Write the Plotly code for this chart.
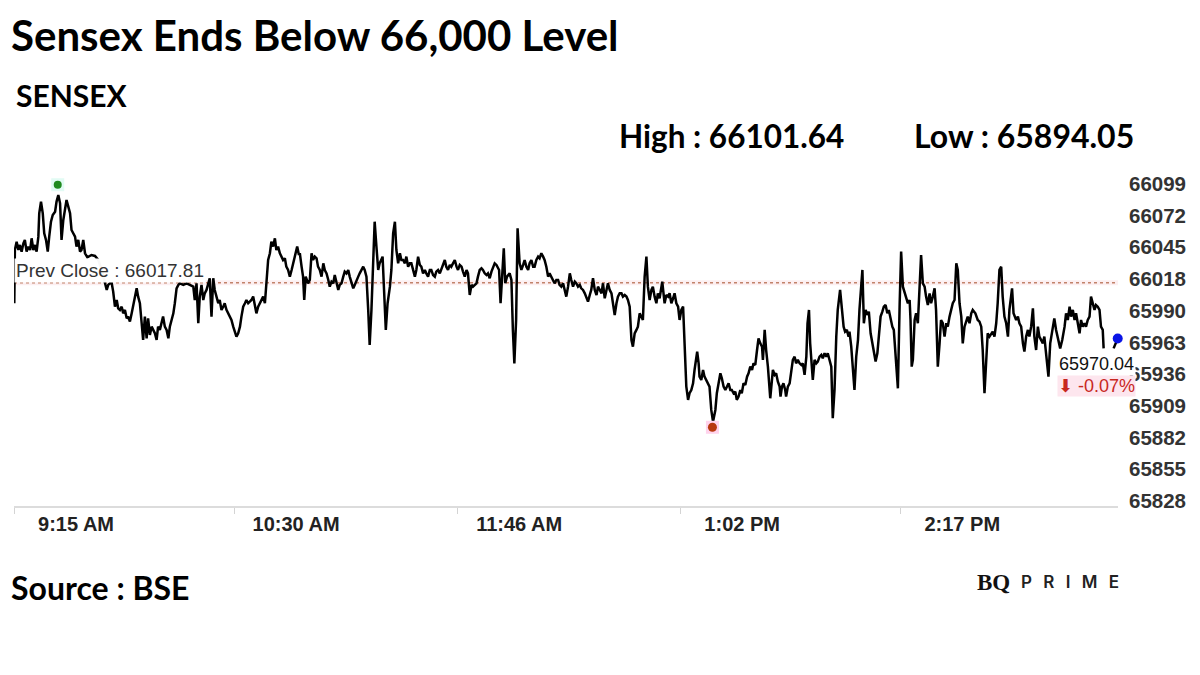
import plotly.graph_objects as go

# ---------------- data ----------------
TITLE = "Sensex Ends Below 66,000 Level"
INDEX_NAME = "SENSEX"
SOURCE = "Source : BSE"
PREV_CLOSE = 66017.81
DAY_HIGH = 66101.64
DAY_LOW = 65894.05
CLOSE = 65970.04
HIGH_T = 14.9      # minutes after 9:15 of the day's high
LOW_T = 238.0      # minutes after 9:15 of the day's low

x_tick_minutes = [0, 75, 151, 227, 302]
x_tick_labels = ["9:15 AM", "10:30 AM", "11:46 AM", "1:02 PM", "2:17 PM"]
y_tick_values = [65828, 65855, 65882, 65909, 65936, 65963, 65990, 66018, 66045, 66072, 66099]
y_tick_labels = [str(v) for v in y_tick_values]

# minutes after 9:15 and Sensex level
t1 = [0.1, 0.3, 0.9, 1.5, 2.0, 2.6, 3.2, 3.7, 4.3, 4.9,
      5.5, 6.0, 6.6, 7.2, 7.7, 8.3, 8.6, 9.2, 9.8, 10.3,
      10.9, 11.5, 12.0, 12.6, 13.2, 14.0, 14.5, 15.1, 15.7, 16.2,
      16.8, 17.4, 17.9, 18.5, 19.1, 19.6, 20.2, 20.8, 21.3, 21.9,
      22.5, 23.0, 23.6, 24.2, 25.0, 26.4, 27.6, 28.7, 29.9, 31.0]
v1 = [66000.2, 66045.8, 66052.9, 66045.8, 66050.1, 66044.4, 66051.5, 66054.4, 66044.4, 66048.7,
      66045.8, 66055.8, 66045.8, 66050.1, 66044.4, 66057.2, 66077.2, 66087.2, 66077.2, 66060.1,
      66054.4, 66044.4, 66057.2, 66070.0, 66075.7, 66078.6, 66087.2, 66092.9, 66085.7, 66054.4,
      66071.5, 66080.0, 66088.6, 66082.9, 66077.2, 66062.9, 66060.1, 66057.2, 66048.7, 66054.4,
      66044.4, 66045.8, 66054.4, 66043.0, 66039.5, 66041.5, 66040.7, 66037.3, 66028.7, 66017.3]

t2 = [31.6, 32.1, 32.7, 33.3, 33.8, 34.4, 35.0, 35.5, 36.1, 36.7,
      37.2, 37.8, 38.4, 38.9, 39.5, 40.1, 40.6, 41.2, 41.8, 42.3,
      42.9, 43.5, 44.0, 44.6, 45.2, 45.7, 46.3, 46.9, 47.4, 48.0,
      48.6, 49.1, 49.7, 50.3, 50.8, 51.4, 52.0, 52.6, 53.1, 53.7,
      54.3, 54.8, 55.4, 56.0, 56.5, 57.7, 58.8, 59.9, 61.1, 61.6]
v2 = [66011.6, 66015.9, 66017.3, 66017.3, 66010.2, 65997.3, 66003.0, 65995.9, 65994.5, 65997.3,
      65991.6, 65994.5, 65987.3, 65988.8, 65984.5, 65991.6, 65997.3, 66005.9, 66013.0, 66005.9,
      66000.2, 65983.1, 65968.8, 65988.8, 65970.2, 65987.3, 65973.1, 65980.2, 65977.4, 65974.5,
      65968.8, 65980.2, 65977.4, 65983.1, 65988.8, 65980.2, 65977.4, 65970.2, 65980.2, 65985.9,
      65991.6, 66000.2, 66013.0, 66015.9, 66017.3, 66015.9, 66017.3, 66015.9, 66014.4, 66003.0]

t3 = [62.2, 62.8, 63.3, 63.9, 64.5, 65.0, 65.6, 66.7, 67.3, 67.9,
      68.4, 69.0, 69.6, 70.1, 70.7, 71.3, 71.8, 72.4, 73.0, 73.5,
      74.1, 74.7, 75.3, 75.8, 76.4, 77.0, 77.5, 78.1, 78.7, 79.2,
      79.8, 80.4, 80.9, 81.5, 82.1, 82.6, 83.2, 83.8, 84.3, 84.9,
      85.5, 86.0, 86.6, 87.2, 87.7, 88.3, 88.9, 89.4, 90.0, 90.6,
      91.1, 91.7, 92.3, 92.8, 93.4]
v3 = [66017.3, 65983.1, 66005.9, 66015.9, 66003.0, 66008.7, 66011.6, 66021.6, 65988.8, 66021.6,
      66011.6, 66005.9, 66000.2, 66003.0, 65994.5, 65997.3, 66000.2, 65994.5, 65991.6, 65988.8,
      65985.9, 65980.2, 65974.5, 65971.7, 65974.5, 65980.2, 65988.8, 65997.3, 66000.2, 66003.0,
      66000.2, 66001.6, 66003.0, 66005.9, 65997.3, 65991.6, 65997.3, 66000.2, 66003.0, 66005.9,
      66000.2, 66020.1, 66037.2, 66043.0, 66052.9, 66048.7, 66055.8, 66045.8, 66048.7, 66043.0,
      66040.1, 66037.2, 66038.7, 66031.5, 66028.7]

t4 = [94.0, 94.6, 95.1, 95.7, 96.5, 97.1, 97.4, 98.0, 98.5, 98.9,
      99.4, 100.2, 100.8, 101.4, 101.9, 102.5, 103.1, 103.6, 104.2, 104.8,
      105.4, 105.9, 106.5, 107.1, 107.6, 108.2, 108.8, 109.3, 109.9, 110.5,
      111.0, 111.6, 112.2, 112.7, 113.3, 113.9, 114.4, 115.0, 115.6, 116.1,
      116.7, 117.3, 117.8, 118.4, 119.0, 119.5, 120.1, 120.7, 121.2, 121.8,
      122.4, 122.9, 123.5, 124.1, 124.6, 125.6, 126.1, 126.7, 127.3, 128.1,
      128.6, 129.2, 129.8, 130.3, 130.9]
v4 = [66023.0, 66028.7, 66034.4, 66038.7, 66048.7, 66041.5, 66043.0, 66031.5, 66023.0, 66003.0,
      66023.0, 66017.3, 66020.1, 66043.0, 66037.2, 66040.1, 66038.7, 66031.5, 66028.7, 66023.0,
      66034.4, 66028.7, 66025.8, 66020.1, 66014.4, 66018.7, 66017.3, 66024.4, 66017.3, 66011.6,
      66015.9, 66017.3, 66023.0, 66027.3, 66025.8, 66028.7, 66023.0, 66018.7, 66013.0, 66015.9,
      66020.1, 66023.0, 66025.8, 66028.7, 66031.5, 66028.7, 66023.0, 65994.5, 65964.5, 65994.5,
      66043.0, 66070.0, 66048.7, 66028.7, 66034.4, 66040.1, 66011.6, 65977.4, 66000.2, 66014.4,
      66028.7, 66060.1, 66070.0, 66045.8, 66034.4]

t5 = [131.5, 132.0, 132.6, 133.2, 133.7, 134.3, 134.9, 135.4, 136.0, 136.6,
      137.1, 137.7, 138.3, 138.8, 139.4, 140.0, 140.5, 141.1, 141.7, 142.2,
      142.8, 143.4, 143.9, 144.5, 145.1, 145.6, 146.2, 146.8, 147.3, 147.9,
      148.5, 149.0, 149.6, 150.2, 150.8, 151.3, 151.9, 152.5, 153.0, 153.6,
      154.2, 154.7, 155.3, 155.9, 156.4, 157.0, 157.6, 158.1, 158.7, 159.3,
      159.8, 160.4, 161.0, 161.5, 162.1, 162.7, 163.2, 163.8, 164.4, 165.3]
v5 = [66043.0, 66037.2, 66037.2, 66034.4, 66040.1, 66031.5, 66034.4, 66034.4, 66028.7, 66023.0,
      66028.7, 66040.1, 66033.0, 66031.5, 66025.8, 66028.7, 66025.8, 66023.0, 66028.7, 66028.7,
      66024.4, 66023.0, 66027.3, 66028.7, 66025.8, 66028.7, 66033.0, 66037.2, 66031.5, 66028.7,
      66033.0, 66031.5, 66034.4, 66037.2, 66031.5, 66028.7, 66033.0, 66031.5, 66027.3, 66023.0,
      66028.7, 66025.8, 66007.3, 66015.9, 66014.4, 66015.9, 66017.3, 66023.0, 66028.7, 66030.1,
      66028.7, 66025.8, 66024.4, 66025.8, 66021.6, 66027.3, 66031.5, 66034.4, 66033.0, 66028.7]

t6 = [165.8, 166.4, 166.9, 167.4, 168.0, 168.9, 169.5, 170.0, 170.5, 171.1,
      171.6, 172.3, 172.9, 173.5, 174.0, 174.6, 175.2, 175.7, 176.3, 176.9,
      177.4, 178.0, 178.6, 179.1, 179.7, 180.3, 180.8, 181.4, 182.0, 182.5,
      183.1, 183.7, 184.2, 184.8, 185.4, 185.9, 186.5, 187.1, 187.6, 188.2,
      188.8]
v6 = [66000.2, 66028.7, 66047.2, 66017.3, 66023.0, 66025.8, 66020.1, 65977.4, 65948.8, 65985.9,
      66064.3, 66034.4, 66028.7, 66033.0, 66037.2, 66031.5, 66028.7, 66034.4, 66037.2, 66031.5,
      66031.5, 66037.2, 66040.1, 66038.7, 66043.0, 66040.1, 66037.2, 66031.5, 66023.0, 66025.8,
      66023.0, 66020.1, 66017.3, 66020.1, 66020.1, 66015.9, 66014.4, 66017.3, 66011.6, 66005.9,
      66014.4]

t7 = [189.4, 189.9, 190.5, 191.1, 191.6, 192.2, 192.8, 193.3, 193.9, 194.5,
      195.0, 195.6, 196.2, 196.7, 197.3, 197.9, 198.5, 199.0, 199.6, 200.2,
      200.7, 201.3, 201.9, 202.4, 203.0, 203.6, 204.1, 204.7, 205.3, 205.8,
      206.4, 207.0, 207.5, 208.1, 208.7, 209.2, 209.8, 210.4, 210.9, 211.5,
      212.1, 212.6, 213.2, 213.8, 214.3, 214.9, 215.5, 216.0, 216.6, 217.2,
      217.7, 218.3, 218.9, 219.4, 220.0, 220.9, 221.7, 222.3, 222.9, 223.4,
      224.0, 224.6, 225.1, 225.7, 226.3, 226.8, 227.4, 228.0]
v7 = [66025.8, 66020.1, 66014.4, 66018.7, 66017.3, 66014.4, 66015.9, 66013.0, 66011.6, 66008.7,
      66005.9, 66001.6, 66007.3, 66011.6, 66021.6, 66011.6, 66007.3, 66014.4, 66011.6, 66008.7,
      66017.3, 66004.5, 66011.6, 66017.3, 66011.6, 66008.7, 66000.2, 65990.2, 66000.2, 66005.9,
      66008.7, 66008.7, 66005.9, 66007.3, 66005.9, 66003.0, 65997.3, 65968.8, 65963.1, 65974.5,
      65977.4, 65980.2, 65991.6, 65988.8, 65985.9, 66023.0, 66040.1, 66014.4, 66003.0, 66011.6,
      66014.4, 66005.9, 66000.2, 66008.7, 66004.5, 66018.7, 66000.2, 66007.3, 66005.9, 66008.7,
      66000.2, 66004.5, 66008.7, 66000.2, 65997.3, 65985.9, 65994.5, 65997.3]

t8 = [228.5, 229.1, 229.7, 230.2, 230.8, 231.4, 231.9, 232.5, 232.8, 233.3,
      233.6, 234.2, 234.8, 235.3, 235.9, 236.5, 237.0, 237.6, 238.2, 239.0,
      239.5, 240.1, 240.7, 241.2, 241.8, 242.4, 242.9, 243.5, 244.1, 244.6,
      245.2, 245.8, 246.3, 246.9, 247.5, 248.0, 248.6, 249.2, 249.8, 250.3,
      250.9, 251.5, 252.0, 252.6, 253.2, 253.7, 254.3, 254.9, 255.2, 255.8,
      256.3, 256.9, 257.7, 258.2, 258.6, 259.2, 259.7, 260.3, 260.9, 261.2,
      261.7, 262.2, 262.8, 263.1, 263.7, 264.3]
v8 = [65957.4, 65928.9, 65917.5, 65923.2, 65926.0, 65931.7, 65943.1, 65954.5, 65958.8, 65948.8,
      65937.4, 65934.6, 65943.1, 65937.4, 65934.6, 65931.7, 65928.9, 65908.9, 65898.9, 65908.9,
      65923.2, 65931.7, 65940.3, 65936.0, 65928.9, 65926.0, 65928.9, 65931.7, 65926.0, 65926.0,
      65923.2, 65924.6, 65917.5, 65920.3, 65926.0, 65923.2, 65931.7, 65930.3, 65937.4, 65940.3,
      65946.0, 65943.1, 65948.8, 65947.4, 65960.2, 65970.2, 65965.9, 65963.1, 65951.7, 65977.4,
      65960.2, 65946.0, 65918.9, 65937.4, 65943.1, 65938.9, 65940.3, 65933.1, 65928.9, 65920.3,
      65928.9, 65931.7, 65926.0, 65920.3, 65928.9, 65931.7]

t9 = [264.8, 265.4, 266.0, 266.5, 267.1, 267.7, 268.3, 268.8, 269.4, 270.0,
      270.4, 270.9, 271.3, 271.8, 272.2, 272.8, 273.4, 273.9, 274.5, 275.1,
      275.6, 276.2, 276.8, 277.3, 277.9, 278.5, 279.0, 279.6, 280.2, 280.7,
      281.5, 282.2, 282.7, 283.2, 283.8, 284.4]
v9 = [65943.1, 65951.7, 65954.5, 65948.8, 65951.7, 65948.8, 65947.4, 65948.8, 65938.9, 65954.5,
      65983.1, 65994.5, 65965.9, 65943.1, 65934.6, 65951.7, 65948.8, 65950.3, 65954.5, 65956.0,
      65953.1, 65957.4, 65954.5, 65957.4, 65951.7, 65946.0, 65901.8, 65926.0, 65971.7, 65994.5,
      66011.6, 65988.8, 65980.2, 65975.9, 65977.4, 65971.7]

t10 = [284.7, 285.3, 285.9, 286.4, 287.0, 287.6, 288.1, 289.1, 289.6, 290.2,
       290.8, 291.3, 291.9, 292.5, 293.0, 293.6, 294.2, 294.7, 295.3, 295.9,
       296.4, 297.0, 297.6, 298.1, 298.7, 299.3, 299.8, 300.4, 300.9, 301.2,
       301.8, 302.3, 302.9, 303.5, 304.0, 304.6, 305.2, 305.5, 305.9, 306.3,
       306.9, 307.4, 308.0, 308.6, 309.1, 309.7, 310.3, 310.8, 311.4, 312.0,
       312.5, 313.1, 313.7, 314.2, 314.8, 315.4, 315.9, 316.5, 317.1, 317.7,
       318.2, 318.8, 319.4, 319.9, 320.5]
v10 = [65975.9, 65963.1, 65937.4, 65926.0, 65954.5, 65968.8, 65994.5, 66028.7, 65983.1, 65994.5,
       65990.2, 65993.0, 65974.5, 65965.9, 65960.2, 65950.3, 65957.4, 65974.5, 65988.8, 65993.0,
       65997.3, 65998.7, 65991.6, 65994.5, 65985.9, 65980.2, 65977.4, 65954.5, 65931.7, 65927.4,
       66000.2, 66044.4, 66014.4, 66008.7, 66004.5, 66000.2, 66003.0, 65985.9, 65946.0, 65951.7,
       65985.9, 65991.6, 65983.1, 66020.1, 66041.5, 66017.3, 66014.4, 66005.9, 65998.7, 66008.7,
       66000.2, 66005.9, 66013.0, 65994.5, 65946.0, 65965.9, 65985.9, 65983.1, 65971.7, 65983.1,
       65980.2, 65988.8, 65994.5, 66000.2, 66003.0]

t11 = [321.1, 321.6, 322.2, 322.8, 323.3, 323.9, 324.5, 325.0, 325.6, 326.2,
       326.7, 327.6, 328.4, 329.0, 329.6, 330.1, 330.7, 331.3, 331.8, 332.4,
       333.0, 333.5, 334.1, 334.7, 335.2, 335.8, 336.4, 336.9, 337.5, 338.1,
       338.7, 339.2, 340.1, 340.6, 341.5, 342.1, 342.6, 343.2, 343.8, 344.3,
       344.9, 345.5, 346.0, 346.6, 347.2, 347.7, 348.3, 348.9, 349.4, 350.0]
v11 = [66034.4, 66028.7, 66000.2, 65988.8, 65965.9, 65980.2, 65985.9, 65988.8, 65983.1, 65991.6,
       65994.5, 65991.6, 65985.9, 65984.5, 65980.2, 65960.2, 65923.2, 65954.5, 65974.5, 65971.7,
       65974.5, 65975.9, 65971.7, 65983.1, 66000.2, 66028.7, 66031.5, 66005.9, 65988.8, 65983.1,
       65971.7, 65994.5, 66013.0, 65991.6, 65985.9, 65988.8, 65983.1, 65980.2, 65965.9, 65958.8,
       65971.7, 65977.4, 65971.7, 65980.2, 65995.9, 65971.7, 65960.2, 65980.2, 65971.7, 65968.8]

t12 = [350.6, 351.1, 351.7, 352.5, 353.1, 353.8, 354.5, 355.1, 355.7, 356.5,
       357.2, 358.0, 358.5, 359.1, 359.7, 360.2, 360.8, 361.4, 361.9, 362.5,
       363.1, 363.6, 364.2, 364.8, 365.3, 365.9, 366.5, 367.0, 367.6, 368.2,
       368.7, 369.3, 369.9, 370.4, 371.0, 371.3]
v12 = [65965.9, 65971.7, 65954.5, 65937.4, 65965.9, 65977.4, 65987.3, 65977.4, 65971.7, 65961.6,
       65968.8, 65980.2, 65991.6, 65985.9, 65997.3, 65988.8, 65994.5, 65985.9, 65991.6, 65983.1,
       65974.5, 65985.9, 65980.2, 65983.1, 65980.2, 65985.9, 65988.8, 66005.9, 66000.2, 65994.5,
       65998.7, 65997.3, 65994.5, 65980.2, 65977.4, 65961.6]

# closing session (after a short gap in the feed)
t_close = [374.7, 376.1]
v_close = [65961.6, CLOSE]

X_END = 376.2

# ---------------- build ----------------
times = t1 + t2 + t3 + t4 + t5 + t6 + t7 + t8 + t9 + t10 + t11 + t12 + [None] + t_close
values = v1 + v2 + v3 + v4 + v5 + v6 + v7 + v8 + v9 + v10 + v11 + v12 + [None] + v_close

W, H = 1200, 675
ML, MR, MT, MB = 14, 82, 170, 169


def px(x):
    return (x - ML) / (W - ML - MR)


def py(y):
    return (H - MB - y) / (H - MT - MB)


fig = go.Figure()

# prev close reference line (soft band + dotted line)
fig.add_shape(type="line", xref="paper", x0=0, x1=1, yref="y", y0=PREV_CLOSE, y1=PREV_CLOSE,
              line=dict(color="rgba(230,120,140,0.12)", width=5), layer="below")
fig.add_shape(type="line", xref="paper", x0=0, x1=1, yref="y", y0=PREV_CLOSE, y1=PREV_CLOSE,
              line=dict(color="#c2826a", width=1.5, dash="dot"), layer="below")

fig.add_trace(go.Scatter(x=times, y=values, mode="lines", connectgaps=False,
                         line=dict(color="#000000", width=2.5), hoverinfo="skip", showlegend=False))

# high marker
fig.add_trace(go.Scatter(x=[HIGH_T], y=[DAY_HIGH], mode="markers", showlegend=False, hoverinfo="skip",
                         cliponaxis=False, marker=dict(symbol="square", size=13, color="#e2fbf4")))
fig.add_trace(go.Scatter(x=[HIGH_T], y=[DAY_HIGH], mode="markers", showlegend=False, hoverinfo="skip",
                         cliponaxis=False, marker=dict(size=8, color="#1f8a1f")))
# low marker
fig.add_trace(go.Scatter(x=[LOW_T], y=[DAY_LOW], mode="markers", showlegend=False, hoverinfo="skip",
                         cliponaxis=False, marker=dict(symbol="square", size=13, color="#ffd3ec")))
fig.add_trace(go.Scatter(x=[LOW_T], y=[DAY_LOW], mode="markers", showlegend=False, hoverinfo="skip",
                         cliponaxis=False, marker=dict(size=9, color="#b8390f")))
# close marker
fig.add_trace(go.Scatter(x=[t_close[-1]], y=[CLOSE], mode="markers", showlegend=False, hoverinfo="skip",
                         cliponaxis=False, marker=dict(size=10, color="#0a14e6")))

head_font = dict(family="Lato, Open Sans, sans-serif", color="#000000", weight="bold")
ann = []
ann.append(dict(text=TITLE, xref="paper", yref="paper", x=px(9), y=py(35), xanchor="left",
                yanchor="middle", showarrow=False, font=dict(head_font, size=42)))
ann.append(dict(text=INDEX_NAME, xref="paper", yref="paper", x=px(14), y=py(95), xanchor="left",
                yanchor="middle", showarrow=False, font=dict(head_font, size=30)))
ann.append(dict(text=f"High : {DAY_HIGH:.2f}", xref="paper", yref="paper", x=px(617), y=py(136),
                xanchor="left", yanchor="middle", showarrow=False, font=dict(head_font, size=31.5)))
ann.append(dict(text=f"Low : {DAY_LOW:.2f}", xref="paper", yref="paper", x=px(912), y=py(136),
                xanchor="left", yanchor="middle", showarrow=False, font=dict(head_font, size=32)))
ann.append(dict(text=SOURCE, xref="paper", yref="paper", x=px(9), y=py(587), xanchor="left",
                yanchor="middle", showarrow=False, font=dict(head_font, size=32)))
# logo
ann.append(dict(text="<b>BQ</b>", xref="paper", yref="paper", x=px(975), y=py(582), xanchor="left",
                yanchor="middle", showarrow=False,
                font=dict(family="Liberation Serif, DejaVu Serif, serif", size=23, color="#111111")))
ann.append(dict(text="P\u2002\u2009R\u2002\u2009I\u2002\u2009M\u2002\u2009E", xref="paper", yref="paper",
                x=px(1019), y=py(582), xanchor="left", yanchor="middle", showarrow=False,
                font=dict(family="Inter, Liberation Sans, sans-serif", size=17, color="#222222",
                          weight=600)))

# prev close label
ann.append(dict(text=f"Prev Close : {PREV_CLOSE:.2f}", x=0, y=PREV_CLOSE, xref="x", yref="y",
                xanchor="left", yanchor="bottom", yshift=0, showarrow=False,
                bgcolor="rgba(255,255,255,0.97)", borderpad=1,
                font=dict(family="Liberation Sans, Arial, sans-serif", size=19, color="#333333")))

# close labels
pct = (CLOSE - PREV_CLOSE) / PREV_CLOSE * 100
ann.append(dict(text=f"{CLOSE:.2f}", x=t_close[-1], y=CLOSE, xref="x", yref="y",
                xanchor="center", yanchor="middle", xshift=-21, yshift=-25, showarrow=False,
                bgcolor="#ffffff", borderpad=1,
                font=dict(family="Liberation Sans, Arial, sans-serif", size=18, color="#111111")))
ann.append(dict(text=f"\u2b07 {pct:.2f}%", x=t_close[-1], y=CLOSE, xref="x", yref="y",
                xanchor="center", yanchor="middle", xshift=-21, yshift=-47, showarrow=False,
                bgcolor="#fde6ee", borderpad=0,
                font=dict(family="Liberation Sans, Arial, sans-serif", size=18, color="#c8281e")))

fig.update_layout(
    width=W, height=H,
    margin=dict(l=ML, r=MR, t=MT, b=MB),
    paper_bgcolor="#ffffff", plot_bgcolor="#ffffff",
    showlegend=False,
    annotations=ann,
    xaxis=dict(range=[0, X_END], tickmode="array", tickvals=x_tick_minutes, ticktext=x_tick_labels,
               showgrid=False, zeroline=False, showline=True, linecolor="#dcdcdc", linewidth=1.5,
               ticks="outside", ticklen=6, tickcolor="#d4d4d4", tickwidth=1,
               ticklabelshift=62, ticklabelstandoff=-7,
               tickfont=dict(family="Liberation Sans, Arial, sans-serif", size=20, color="#222222",
                             weight="bold")),
    yaxis=dict(range=[65826.7, 66114.25], side="right", tickmode="array", tickvals=y_tick_values,
               ticktext=y_tick_labels, showgrid=False, zeroline=False, showline=False, ticks="",
               ticklabelshift=-4, ticklabelstandoff=10,
               tickfont=dict(family="Liberation Sans, Arial, sans-serif", size=20.5, color="#333333",
                             weight="bold")),
)

fig.write_html("out.html", config={"displayModeBar": False, "staticPlot": True},
               post_script="document.body.style.margin='0';")
